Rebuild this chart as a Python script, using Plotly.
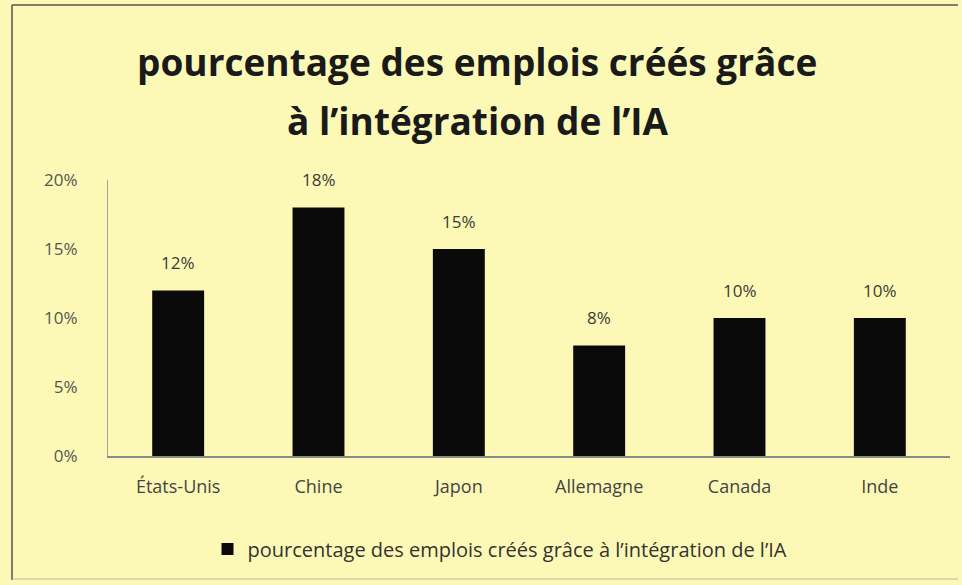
import plotly.graph_objects as go

categories = ["États-Unis", "Chine", "Japon", "Allemagne", "Canada", "Inde"]
values = [12, 18, 15, 8, 10, 10]
tick_vals = [0, 5, 10, 15, 20]
tick_text = ["0%", "5%", "10%", "15%", "20%"]
series_name = "pourcentage des emplois créés grâce à l’intégration de l’IA"
title_lines = ["pourcentage des emplois créés grâce", "à l’intégration de l’IA"]

W, H = 962, 585
L, R, T, B = 108, 12, 180, 129
pw, ph = W - L - R, H - T - B

def px_x(x):
    return (x - L) / pw

def px_y(y):
    return (H - B - y) / ph

BG = "#FCF9B6"
FONT = "'Open Sans', sans-serif"

fig = go.Figure()
fig.add_trace(go.Bar(
    x=categories, y=values, name=series_name,
    marker=dict(color="#0a0a0a", line=dict(width=0)),
    showlegend=True, hoverinfo="x+y",
))

annotations = []
for c, v in zip(categories, values):
    annotations.append(dict(x=c, y=v, xref="x", yref="y", text=f"{v}%", showarrow=False,
                            yanchor="middle", yshift=28,
                            font=dict(family=FONT, size=17, color="#3a3a3a")))
for i, line in enumerate(title_lines):
    annotations.append(dict(x=px_x(477), y=px_y([61, 121][i]), xref="paper", yref="paper",
                            text=line, showarrow=False, xanchor="center", yanchor="middle",
                            font=dict(family=FONT, size=37, color="#1a1a1a", weight="bold")))

fig.update_layout(
    width=W, height=H,
    margin=dict(l=L, r=R, t=T, b=B),
    paper_bgcolor=BG, plot_bgcolor=BG,
    bargap=0.63,
    xaxis=dict(showline=True, linecolor="#8a8a8a", linewidth=1.5, ticks="",
               tickfont=dict(family=FONT, size=18, color="#444444"), showgrid=False,
               ticklabelstandoff=14),
    yaxis=dict(range=[0, 20], tickvals=tick_vals, ticktext=tick_text, showline=True,
               linecolor="#a0a0a0", linewidth=1, showgrid=False, zeroline=False, ticks="",
               tickfont=dict(family=FONT, size=17, color="#555555"), ticklabelstandoff=26),
    legend=dict(orientation="h", x=px_x(500), xanchor="center", y=px_y(549), yanchor="middle",
                font=dict(family=FONT, size=20, color="#333333"), bgcolor="rgba(0,0,0,0)",
                itemwidth=30),
    annotations=annotations,
    shapes=[
        dict(type="line", xref="paper", yref="paper", x0=px_x(12), x1=px_x(12),
             y0=px_y(580), y1=px_y(5), line=dict(color="#555555", width=1.5)),
        dict(type="line", xref="paper", yref="paper", x0=px_x(12), x1=px_x(958),
             y0=px_y(5), y1=px_y(5), line=dict(color="#555555", width=1.5)),
        dict(type="line", xref="paper", yref="paper", x0=px_x(12), x1=px_x(958),
             y0=px_y(579), y1=px_y(579), line=dict(color="#bdbb98", width=1)),
    ],
)

fig.write_html("out.html", config={"displayModeBar": False},
               post_script="document.body.style.margin='0';")
